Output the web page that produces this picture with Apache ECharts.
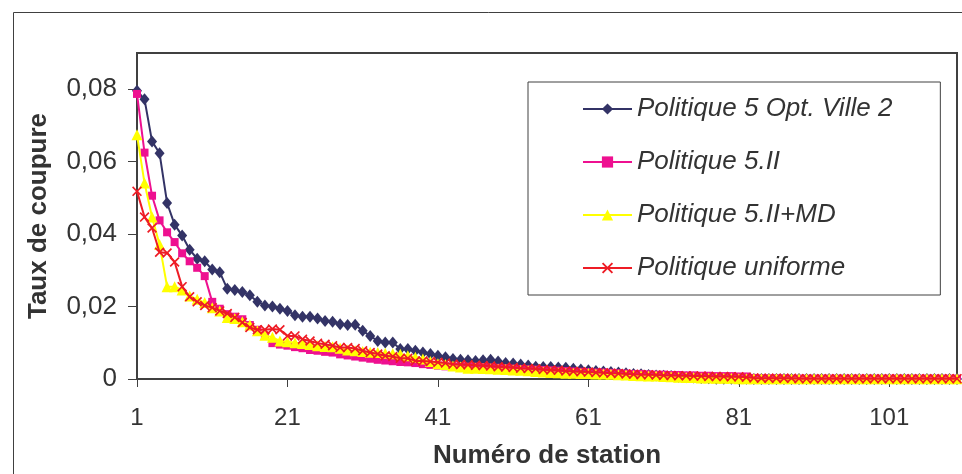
<!DOCTYPE html>
<html>
<head>
<meta charset="utf-8">
<script src="https://cdn.jsdelivr.net/npm/echarts@6/dist/echarts.min.js"></script>
<style>
html,body{margin:0;padding:0;background:#fff;}
#chart{width:962px;height:474px;}
</style>
</head>
<body>
<div id="chart"></div>
<script>
const stations = ['1','2','3','4','5','6','7','8','9','10','11','12','13','14','15','16','17','18','19','20',
'21','22','23','24','25','26','27','28','29','30','31','32','33','34','35','36','37','38','39','40',
'41','42','43','44','45','46','47','48','49','50','51','52','53','54','55','56','57','58','59','60',
'61','62','63','64','65','66','67','68','69','70','71','72','73','74','75','76','77','78','79','80',
'81','82','83','84','85','86','87','88','89','90','91','92','93','94','95','96','97','98','99','100',
'101','102','103','104','105','106','107','108','109','110'];

const seriesNames = ['Politique 5 Opt. Ville 2','Politique 5.II','Politique 5.II+MD','Politique uniforme'];

const politique5OptVille2 = [
0.0796,0.0772,0.0656,0.0623,0.0486,0.0426,0.0396,0.0357,0.0332,0.0325,
0.0302,0.0295,0.0249,0.0246,0.0240,0.0231,0.0213,0.0203,0.0200,0.0194,
0.0188,0.0176,0.0172,0.0172,0.0167,0.0160,0.0158,0.0151,0.0149,0.0150,
0.0133,0.0119,0.0105,0.0101,0.0101,0.0083,0.0083,0.0078,0.0073,0.0069,
0.0064,0.0060,0.0055,0.0053,0.0052,0.0050,0.0052,0.0053,0.0048,0.0044,
0.0043,0.0040,0.0037,0.0034,0.0033,0.0033,0.0032,0.0031,0.0028,0.0026,
0.0024,0.0022,0.0021,0.0019,0.0018,0.0016,0.0014,0.0013,0.0011,0.0010,
0.0009,0.0008,0.0006,0.0005,0.0004,0.0003,0.0002,0.0001,0.0001,0.0001,
0.0001,0.0001,0,0,0,0,0,0,0,0,
0,0,0,0,0,0,0,0,0,0,
0,0,0,0,0,0,0,0,0,0];

const politique5II = [
0.0787,0.0625,0.0506,0.0438,0.0405,0.0378,0.0347,0.0325,0.0307,0.0284,
0.0213,0.0194,0.0179,0.0172,0.0165,0.0149,0.0136,0.0119,0.0099,0.0095,
0.0092,0.0088,0.0085,0.0080,0.0078,0.0075,0.0073,0.0068,0.0065,0.0062,
0.0059,0.0056,0.0053,0.0051,0.0049,0.0047,0.0046,0.0044,0.0041,0.0039,
0.0037,0.0035,0.0034,0.0035,0.0034,0.0034,0.0033,0.0032,0.0031,0.0030,
0.0029,0.0028,0.0027,0.0026,0.0025,0.0024,0.0023,0.0022,0.0021,0.0020,
0.0019,0.0018,0.0018,0.0017,0.0016,0.0015,0.0014,0.0014,0.0013,0.0012,
0.0012,0.0011,0.0011,0.0010,0.0010,0.0009,0.0009,0.0008,0.0008,0.0008,
0.0007,0.0007,0.0003,0.0002,0.0002,0.0002,0.0002,0.0001,0.0001,0.0001,
0.0001,0.0001,0.0001,0.0001,0.0001,0.0001,0.0001,0.0001,0.0001,0.0001,
0.0001,0.0001,0.0001,0.0001,0.0001,0.0001,0.0001,0.0001,0.0001,0.0001];

const politique5IIMD = [
0.0674,0.0541,0.0447,0.0371,0.0255,0.0255,0.0246,0.0229,0.0220,0.0211,
0.0197,0.0188,0.0170,0.0167,0.0158,0.0149,0.0133,0.0121,0.0115,0.0105,
0.0103,0.0100,0.0098,0.0095,0.0092,0.0090,0.0089,0.0085,0.0080,0.0078,
0.0076,0.0074,0.0073,0.0071,0.0070,0.0068,0.0064,0.0060,0.0055,0.0048,
0.0042,0.0040,0.0036,0.0033,0.0030,0.0030,0.0029,0.0028,0.0027,0.0026,
0.0025,0.0024,0.0023,0.0021,0.0019,0.0018,0.0017,0.0016,0.0016,0.0015,
0.0015,0.0014,0.0014,0.0013,0.0012,0.0011,0.0010,0.0009,0.0008,0.0008,
0.0007,0.0006,0.0005,0.0004,0.0004,0.0003,0.0003,0.0002,0.0002,0.0002,
0.0001,0.0001,0.0001,0.0001,0.0001,0.0001,0.0001,0.0001,0.0001,0.0001,
0.0001,0.0001,0.0001,0.0001,0.0001,0.0001,0.0001,0.0001,0.0001,0.0001,
0.0001,0.0001,0.0001,0.0001,0.0001,0.0001,0.0001,0.0001,0.0001,0.0001];

const politiqueUniforme = [
0.0518,0.0447,0.0417,0.0350,0.0348,0.0323,0.0255,0.0227,0.0213,0.0203,
0.0197,0.0188,0.0181,0.0170,0.0156,0.0142,0.0136,0.0136,0.0138,0.0136,
0.0119,0.0119,0.0110,0.0105,0.0099,0.0096,0.0092,0.0087,0.0087,0.0084,
0.0078,0.0073,0.0069,0.0064,0.0062,0.0057,0.0057,0.0050,0.0050,0.0048,
0.0046,0.0044,0.0041,0.0040,0.0039,0.0038,0.0037,0.0036,0.0034,0.0033,
0.0032,0.0030,0.0029,0.0028,0.0026,0.0025,0.0024,0.0022,0.0021,0.0020,
0.0019,0.0018,0.0017,0.0016,0.0015,0.0014,0.0013,0.0012,0.0012,0.0011,
0.0010,0.0010,0.0009,0.0009,0.0008,0.0008,0.0007,0.0007,0.0007,0.0006,
0.0006,0.0005,0.0003,0.0002,0.0002,0.0002,0.0002,0.0002,0.0001,0.0001,
0.0001,0.0001,0.0001,0.0001,0.0001,0.0001,0.0001,0.0001,0.0001,0.0001,
0.0001,0.0001,0.0001,0.0001,0.0001,0.0001,0.0001,0.0001,0.0001,0.0001];

const yTickValues = [0, 0.02, 0.04, 0.06, 0.08];

const FONT = "'Liberation Sans', Arial, sans-serif";
const AXIS_COLOR = '#404040';
const TEXT_COLOR = '#333333';
const xShape = 'path://M0,1.2L1.2,0L5,3.8L8.8,0L10,1.2L6.2,5L10,8.8L8.8,10L5,6.2L1.2,10L0,8.8L3.8,5Z';

const chart = echarts.init(document.getElementById('chart'), null, {renderer: 'canvas'});

function mkSeries(name, data, color, symbol, size, z) {
  return {
    name: name, type: 'line', data: data, z: z,
    symbol: symbol, symbolSize: size, showSymbol: true, showAllSymbol: true,
    lineStyle: {color: color, width: 2},
    itemStyle: {color: color, borderWidth: 0},
    emphasis: {disabled: true},
    animation: false
  };
}

chart.setOption({
  animation: false,
  backgroundColor: '#ffffff',
  textStyle: {fontFamily: FONT},
  graphic: [{
    type: 'rect', silent: true, z: -10,
    shape: {x: 13.5, y: 12.5, width: 1000, height: 500},
    style: {fill: '#ffffff', stroke: AXIS_COLOR, lineWidth: 1}
  }],
  grid: {
    left: 137, top: 53, width: 820, height: 327,
    show: true, borderColor: AXIS_COLOR, borderWidth: 2, backgroundColor: 'transparent'
  },
  legend: {
    orient: 'vertical', left: 528, top: 82,
    padding: [14, 48, 14, 54],
    itemGap: 27, itemWidth: 49, itemHeight: 14,
    borderColor: AXIS_COLOR, borderWidth: 1, backgroundColor: '#ffffff',
    textStyle: {fontFamily: FONT, fontSize: 26, fontStyle: 'italic', color: TEXT_COLOR},
    data: seriesNames
  },
  xAxis: {
    type: 'category', data: stations, boundaryGap: false,
    axisLine: {lineStyle: {color: AXIS_COLOR, width: 2}},
    axisTick: {show: true, interval: 19, length: 8, lineStyle: {color: AXIS_COLOR, width: 1}},
    axisLabel: {interval: 19, margin: 27, fontSize: 24, color: TEXT_COLOR, fontFamily: FONT},
    splitLine: {show: false},
    name: 'Numéro de station', nameLocation: 'middle', nameGap: 64,
    nameTextStyle: {fontSize: 26, fontWeight: 'bold', color: TEXT_COLOR, fontFamily: FONT}
  },
  yAxis: {
    type: 'value', min: 0, max: 0.09, interval: 0.02,
    axisLine: {show: true, lineStyle: {color: AXIS_COLOR, width: 2}},
    axisTick: {show: true, length: 9, customValues: yTickValues, lineStyle: {color: AXIS_COLOR, width: 1}},
    axisLabel: {
      margin: 20, fontSize: 26, color: TEXT_COLOR, fontFamily: FONT,
      customValues: yTickValues,
      formatter: function (v) { return v === 0 ? '0' : v.toFixed(2).replace('.', ','); }
    },
    splitLine: {show: false},
    name: 'Taux de coupure', nameLocation: 'middle', nameGap: 85, nameRotate: 90,
    nameTextStyle: {fontSize: 26, fontWeight: 'bold', color: TEXT_COLOR, fontFamily: FONT}
  },
  series: [
    mkSeries(seriesNames[0], politique5OptVille2, '#333366', 'diamond', [10, 12], 2),
    mkSeries(seriesNames[1], politique5II, '#EE1090', 'rect', 8, 3),
    mkSeries(seriesNames[2], politique5IIMD, '#FFFF00', 'triangle', 11, 4),
    mkSeries(seriesNames[3], politiqueUniforme, '#EE1C25', xShape, 10, 5)
  ]
});
</script>
</body>
</html>
